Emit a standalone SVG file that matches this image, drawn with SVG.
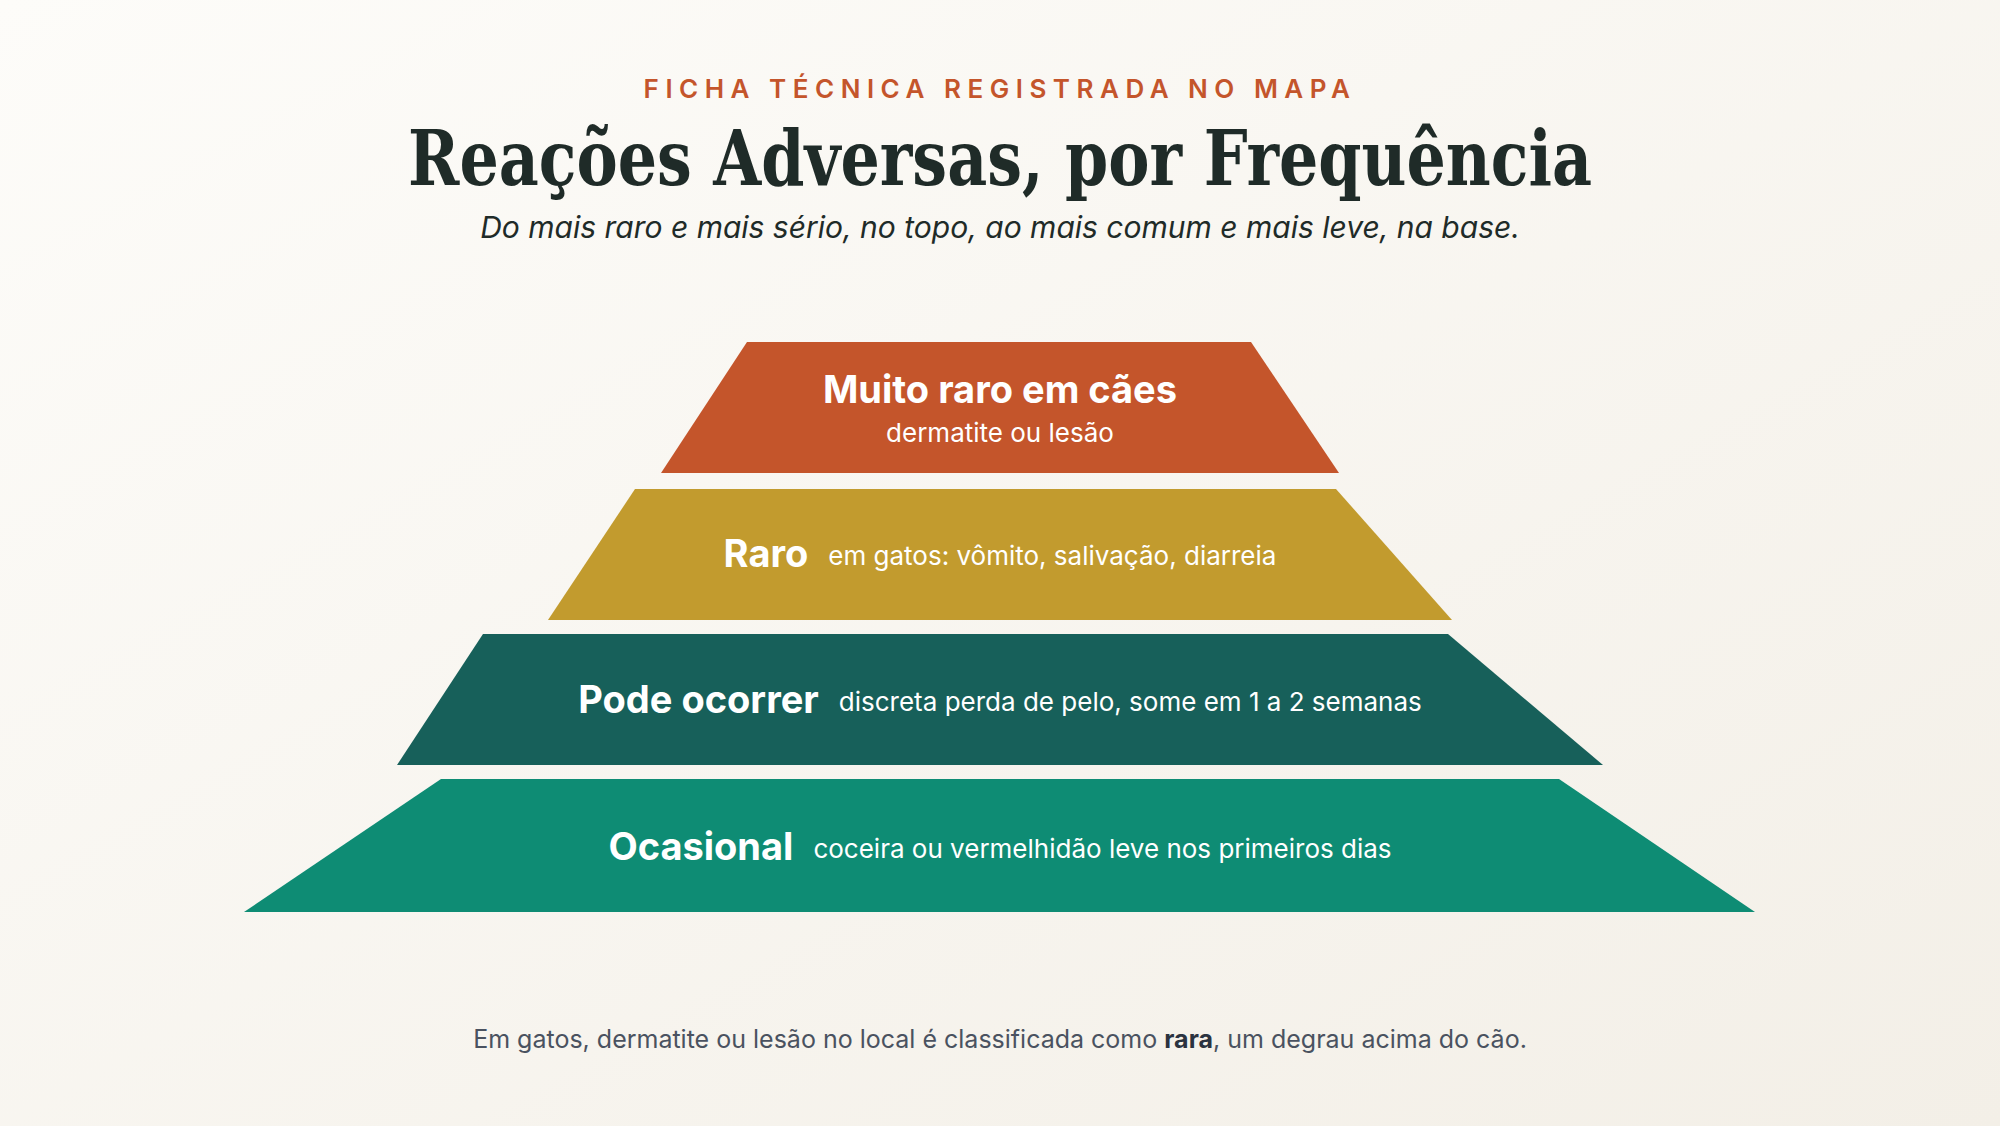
<svg xmlns="http://www.w3.org/2000/svg" width="2000" height="1126" viewBox="0 0 2000 1126">
<defs>
<linearGradient id="bg" x1="0" y1="0" x2="1" y2="1"><stop offset="0" stop-color="#FDFCF9"/><stop offset="1" stop-color="#F3EFE7"/></linearGradient>
<style>
.t{font-family:Inter,"Noto Sans",sans-serif;fill:#fff;text-anchor:middle}
.b{font-weight:700;font-size:38px}
.d{font-size:26px;font-weight:400}
</style>
</defs>
<rect width="2000" height="1126" fill="url(#bg)"/>
<text x="1000" y="98" text-anchor="middle" font-family="Inter,sans-serif" font-size="26" font-weight="600" letter-spacing="6.5" fill="#C4552B">FICHA TÉCNICA REGISTRADA NO MAPA</text>
<text x="1000" y="185" text-anchor="middle" font-family="'DejaVu Serif','Liberation Serif',serif" font-size="76" font-weight="700" fill="#1F2B28" textLength="1184" lengthAdjust="spacingAndGlyphs">Reações Adversas, por Frequência</text>
<text x="1000" y="238" text-anchor="middle" font-family="Inter,sans-serif" font-size="30" font-style="italic" fill="#1F2B28">Do mais raro e mais sério, no topo, ao mais comum e mais leve, na base.</text>
<g id="layer1"><polygon points="747,342 1251,342 1339,473 661,473" fill="#C4552B"/>
<text class="t b" x="1000" y="403">Muito raro em cães</text><text class="t d" x="1000" y="442">dermatite ou lesão</text></g>
<g id="layer2"><polygon points="635,489 1336,489 1452,620 548,620" fill="#C29B2E"/>
<text class="t" x="1000" y="567"><tspan class="b">Raro</tspan><tspan class="d" dx="20" dy="-2">em gatos: vômito, salivação, diarreia</tspan></text></g>
<g id="layer3"><polygon points="483,634 1448,634 1603,765 397,765" fill="#17605A"/>
<text class="t" x="1000" y="713"><tspan class="b">Pode ocorrer</tspan><tspan class="d" dx="20" dy="-2">discreta perda de pelo, some em 1 a 2 semanas</tspan></text></g>
<g id="layer4"><polygon points="441,779 1559,779 1755,912 244,912" fill="#0E8C74"/>
<text class="t" x="1000" y="860"><tspan class="b">Ocasional</tspan><tspan class="d" dx="20" dy="-2">coceira ou vermelhidão leve nos primeiros dias</tspan></text></g>
<g id="connectors"/>
<text x="1000" y="1048" text-anchor="middle" font-family="Inter,sans-serif" font-size="25" fill="#4A5260">Em gatos, dermatite ou lesão no local é classificada como <tspan font-weight="700" fill="#2B3340">rara</tspan>, um degrau acima do cão.</text>
</svg>
